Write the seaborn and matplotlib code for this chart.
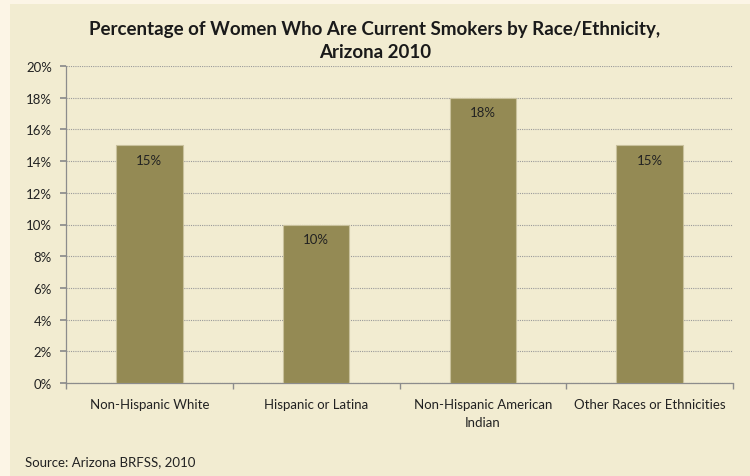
import matplotlib as mpl
import matplotlib.pyplot as plt
import seaborn as sns
import pandas as pd
from matplotlib.patches import Rectangle
from matplotlib.ticker import FuncFormatter, FixedLocator

mpl.use('agg')

categories = ["Non-Hispanic White", "Hispanic or Latina",
              "Non-Hispanic American\nIndian", "Other Races or Ethnicities"]
smokers_pct = [15, 10, 18, 15]
y_ticks = [0, 2, 4, 6, 8, 10, 12, 14, 16, 18, 20]

title = "Percentage of Women Who Are Current Smokers by Race/Ethnicity,\nArizona 2010"
source = "Source: Arizona BRFSS, 2010"

outer_bg = '#FCF5E6'
inner_bg = '#F2ECD1'
bar_col = '#948A54'

sns.set_theme(style="white")
plt.rcParams['font.family'] = ['Lato', 'DejaVu Sans']

df = pd.DataFrame({'group': categories, 'pct': smokers_pct})

fig = plt.figure(figsize=(7.5, 4.77), dpi=100, facecolor=outer_bg)
# inner chart panel, leaving a thin lighter strip left and top
fig.patches.append(Rectangle((10 / 750, 0), 1, 1 - 5 / 477, transform=fig.transFigure,
                             facecolor=inner_bg, edgecolor='none', zorder=-10))
ax = fig.add_axes([66 / 750, 1 - 384 / 477, (733 - 66) / 750, (384 - 67) / 477])
ax.set_facecolor(inner_bg)

sns.barplot(data=df, x='group', y='pct', color=bar_col, width=0.4, saturation=1,
            edgecolor='#C9C19C', linewidth=0.8, ax=ax, zorder=3)

ax.set_ylim(0, 20)
ax.set_xlim(-0.5, 3.5)
ax.yaxis.set_major_locator(FixedLocator(y_ticks))
ax.yaxis.set_major_formatter(FuncFormatter(lambda v, p: '{:.0f}%'.format(v)))
ax.grid(axis='y', color='#9A9A9A', linestyle=(0, (1, 1)), linewidth=0.8, zorder=1)
ax.set_axisbelow(True)

for s in ['top', 'right']:
    ax.spines[s].set_visible(False)
for s in ['left', 'bottom']:
    ax.spines[s].set_color('#8C8C8C')
    ax.spines[s].set_linewidth(0.9)

ax.tick_params(axis='y', which='major', length=4, color='#8C8C8C', direction='out',
               labelsize=9.5, labelcolor='#222222', pad=6, left=True)
ax.tick_params(axis='x', which='major', length=0, labelsize=9.5, labelcolor='#222222', pad=11)
ax.set_xticks([-0.5, 0.5, 1.5, 2.5, 3.5], minor=True)
ax.tick_params(axis='x', which='minor', length=4, color='#8C8C8C', direction='out', bottom=True)
for lbl in ax.get_xticklabels():
    lbl.set_linespacing(1.55)
ax.set_xlabel('')
ax.set_ylabel('')

for i, v in enumerate(smokers_pct):
    ax.text(i, v - 0.55, '{}%'.format(v), ha='center', va='top', fontsize=9.5, color='#222222')

fig.text(0.5, 1 - 41 / 477, title, ha='center', va='center', fontsize=13.5,
         fontweight='bold', color='#1A1A1A', linespacing=1.5)
fig.text(25 / 750, 1 - 462 / 477, source, ha='left', va='center', fontsize=9.5, color='#222222')

fig.savefig('out.png', dpi=100, facecolor=outer_bg)
